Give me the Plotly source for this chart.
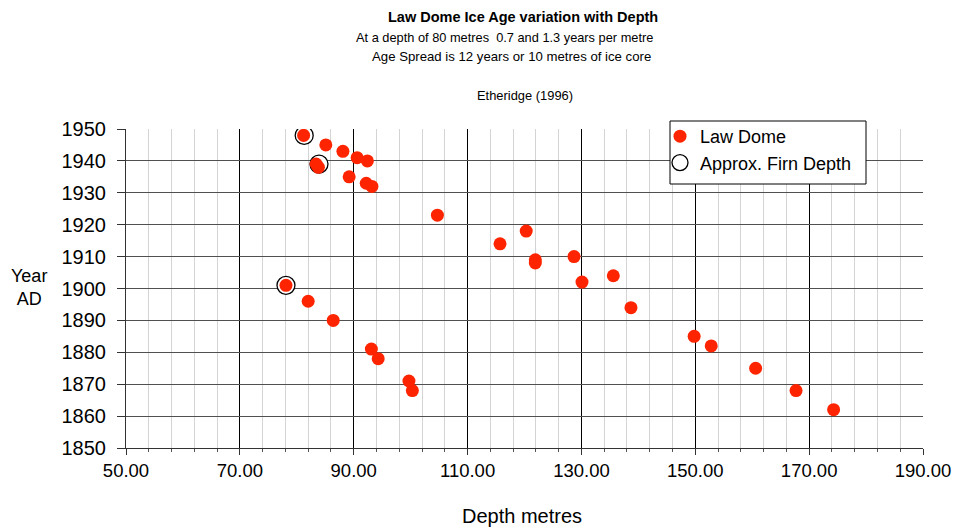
import plotly.graph_objects as go

# Law Dome ice core samples (depth in metres, year AD)
law_depth = [81.2, 85.1, 88.1, 90.6, 92.4, 83.4, 83.8, 89.2, 92.2, 93.2,
             104.7, 115.7, 120.3, 121.9, 121.9, 128.7, 130.1, 135.6, 138.7,
             78.1, 82.0, 86.4, 93.1, 94.3, 99.7, 100.3,
             149.8, 152.8, 160.6, 167.7, 174.3]
law_year = [1948, 1945, 1943, 1941, 1940, 1939, 1938, 1935, 1933, 1932,
            1923, 1914, 1918, 1909, 1908, 1910, 1902, 1904, 1894,
            1901, 1896, 1890, 1881, 1878, 1871, 1868,
            1885, 1882, 1875, 1868, 1862]

# approximate firn depth markers
firn_depth = [81.3, 83.9, 78.1]
firn_year = [1948, 1939, 1901]

x_ticks = [50, 70, 90, 110, 130, 150, 170, 190]
x_tick_text = ["50.00", "70.00", "90.00", "110.00", "130.00", "150.00", "170.00", "190.00"]

FONT = "Liberation Sans, Arial, sans-serif"
RED = "#ff2400"

# plot area in pixels (for placing the loose texts)
L, R, T, B = 126, 923, 129, 448


def px(x):
    return (x - L) / (R - L)


def py(y):
    return (B - y) / (B - T)


fig = go.Figure()

fig.add_trace(go.Scatter(
    x=firn_depth, y=firn_year, mode="markers", name="Approx. Firn Depth",
    marker=dict(symbol="circle", size=18, color="white",
                line=dict(color="black", width=1.3)),
))
fig.add_trace(go.Scatter(
    x=law_depth, y=law_year, mode="markers", name="Law Dome",
    marker=dict(symbol="circle", size=13, color=RED, line=dict(width=0)),
))
# keep legend order: Law Dome first
fig.data[0].legendrank = 2
fig.data[1].legendrank = 1

fig.update_xaxes(
    range=[50, 190], tickvals=x_ticks, ticktext=x_tick_text,
    showgrid=True, gridcolor="black", gridwidth=1,
    minor=dict(dtick=4, tick0=50, showgrid=True, gridcolor="#d4d4d4", gridwidth=1,
               ticks="outside", ticklen=3, tickcolor="#555"),
    ticks="outside", ticklen=6, tickcolor="#333",
    showline=True, linecolor="#333", linewidth=1, mirror=False,
    zeroline=False, tickfont=dict(size=18.5, color="black", family=FONT),
    automargin=False,
)
fig.update_yaxes(
    range=[1850, 1950], dtick=10, tick0=1850,
    showgrid=True, gridcolor="#505050", gridwidth=1,
    ticks="outside", ticklen=8, tickcolor="#333", ticklabelstandoff=7,
    showline=True, linecolor="#333", linewidth=1,
    zeroline=False, tickfont=dict(size=20, color="black", family=FONT),
    automargin=False,
)


def ann(text, x, y, size, bold=False):
    fig.add_annotation(
        text=f"<b>{text}</b>" if bold else text,
        xref="paper", yref="paper", x=px(x), y=py(y),
        xanchor="center", yanchor="middle", showarrow=False,
        font=dict(size=size, color="black", family=FONT),
    )


ann("Law Dome Ice Age variation with Depth", 523, 17, 14.5, bold=True)
ann("At a depth of 80 metres&nbsp;&nbsp;0.7 and 1.3 years per metre", 504, 37, 12.8)
ann("Age Spread is 12 years or 10 metres of ice core", 511, 57, 13.2)
ann("Etheridge (1996)", 525, 95, 12.9)
ann("Depth metres", 522, 516, 20)
ann("Year<br>AD", 29, 287, 18)

# legend frame
fig.add_shape(
    type="rect", xref="paper", yref="paper",
    x0=px(670), x1=px(866), y0=py(184), y1=py(121),
    fillcolor="white", line=dict(color="black", width=1), layer="above",
)

fig.update_layout(
    width=957, height=529,
    margin=dict(l=L, r=957 - R, t=T, b=529 - B),
    paper_bgcolor="white", plot_bgcolor="white",
    font=dict(family=FONT, color="black"),
    showlegend=True,
    legend=dict(
        x=px(660), y=py(118), xanchor="left", yanchor="top",
        bgcolor="rgba(0,0,0,0)", borderwidth=0,
        font=dict(size=18, family=FONT, color="black"),
        tracegroupgap=0, itemwidth=30,
    ),
)

# drop the browser's default 8px body margin so the figure sits at the page origin
fig.write_html("out.html", config={"displayModeBar": False},
               post_script="document.body.style.margin='0';")
